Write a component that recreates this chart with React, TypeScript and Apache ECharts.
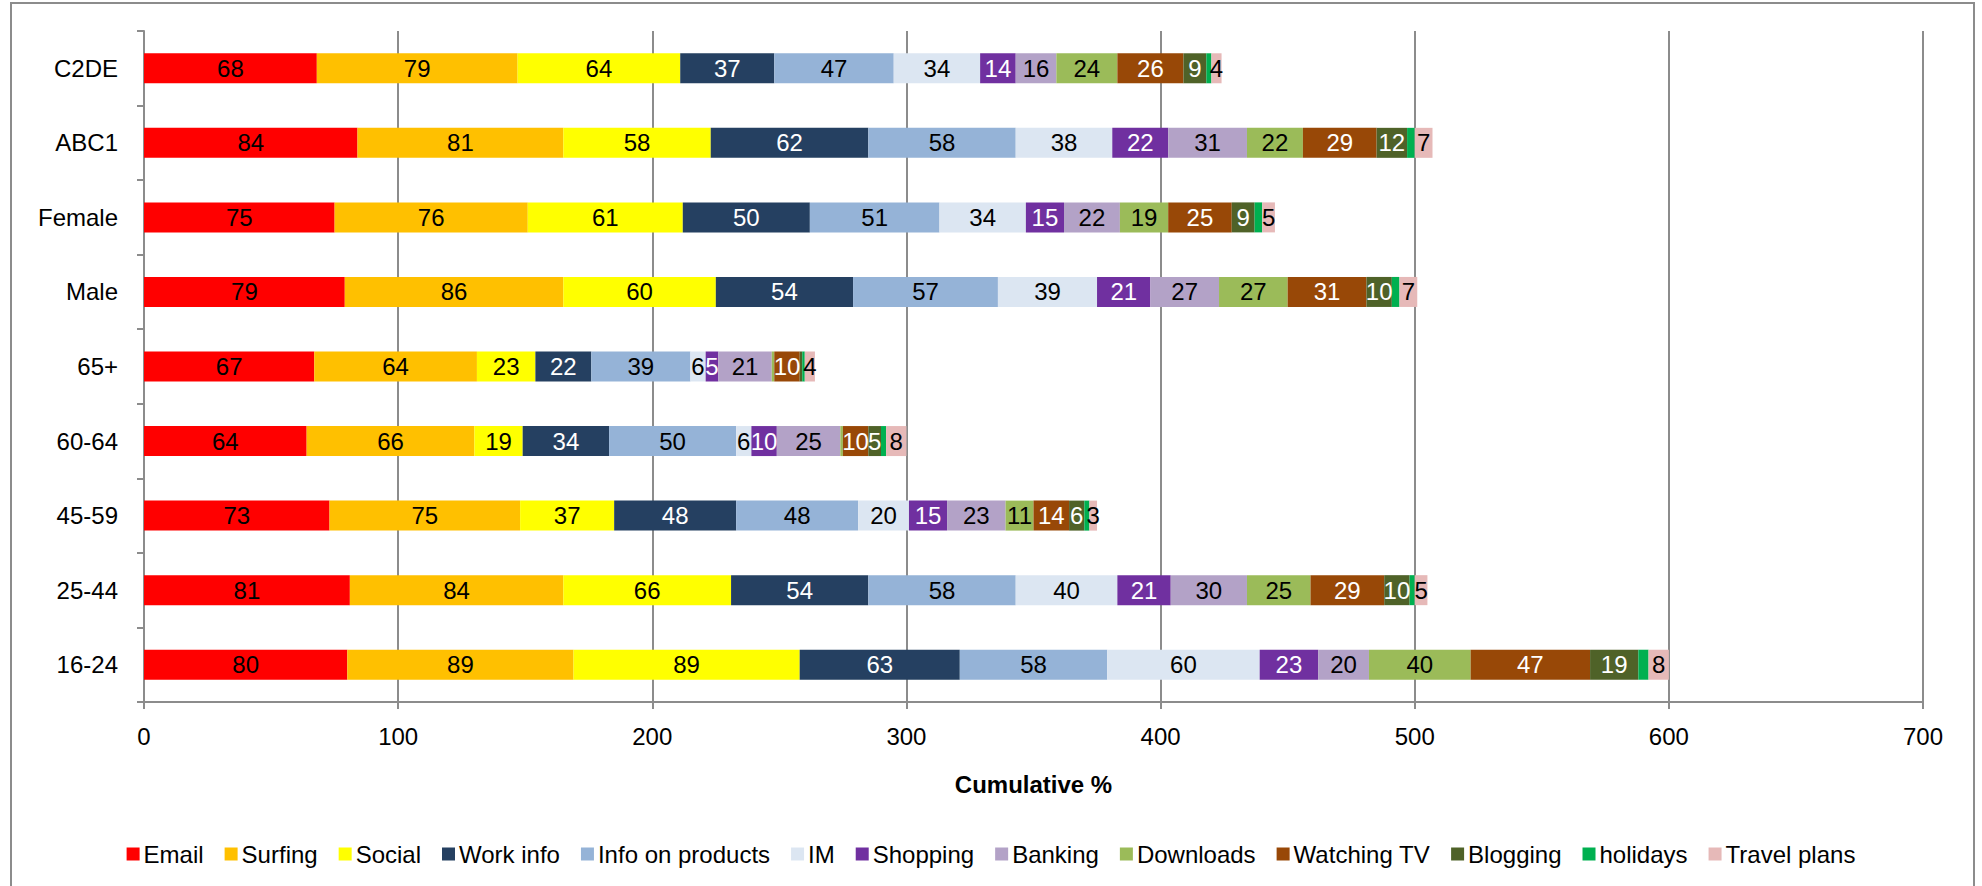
import React, { useEffect, useRef } from "react";
import * as echarts from "echarts";

// Audience groups, bottom to top on the category axis
const groups = ["16-24", "25-44", "45-59", "60-64", "65+", "Male", "Female", "ABC1", "C2DE"];

const activities = [
  "Email", "Surfing", "Social", "Work info", "Info on products", "IM", "Shopping",
  "Banking", "Downloads", "Watching TV", "Blogging", "holidays", "Travel plans",
];

const activityColors = [
  "#FF0000", "#FFC000", "#FFFF00", "#254061", "#95B3D7", "#DCE6F2", "#7030A0",
  "#B3A2C7", "#9BBB59", "#984807", "#4F6228", "#00B050", "#E6B9B8",
];

// Segments whose labels sit on a dark fill use white text
const whiteLabel = ["Work info", "Shopping", "Watching TV", "Blogging"];
const unlabelled = ["holidays"];

// Per-activity values, in the order of `groups`
const email = [80, 81, 73, 64, 67, 79, 75, 84, 68];
const surfing = [89, 84, 75, 66, 64, 86, 76, 81, 79];
const social = [89, 66, 37, 19, 23, 60, 61, 58, 64];
const workInfo = [63, 54, 48, 34, 22, 54, 50, 62, 37];
const infoOnProducts = [58, 58, 48, 50, 39, 57, 51, 58, 47];
const im = [60, 40, 20, 6, 6, 39, 34, 38, 34];
const shopping = [23, 21, 15, 10, 5, 21, 15, 22, 14];
const banking = [20, 30, 23, 25, 21, 27, 22, 31, 16];
const downloads = [40, 25, 11, 1, 1, 27, 19, 22, 24];
const watchingTv = [47, 29, 14, 10, 10, 31, 25, 29, 26];
const blogging = [19, 10, 6, 5, 1, 10, 9, 12, 9];
const holidays = [4, 2, 2, 2, 1, 3, 3, 3, 2];
const travelPlans = [8, 5, 3, 8, 4, 7, 5, 7, 4];

const seriesValues = [
  email, surfing, social, workInfo, infoOnProducts, im, shopping,
  banking, downloads, watchingTv, blogging, holidays, travelPlans,
];

const xTicks = { min: 0, max: 700, interval: 100 };

const FONT = "'Liberation Sans', Arial, sans-serif";
const GRID_GRAY = "#8c8c8c";

export default function App() {
  const ref = useRef<HTMLDivElement>(null);

  useEffect(() => {
    if (!ref.current) return;
    const chart = echarts.init(ref.current, undefined, { renderer: "svg" });

    const series = activities.map((name, i) => ({
      name,
      type: "bar" as const,
      stack: "total",
      barWidth: 30,
      itemStyle: { color: activityColors[i] },
      label: {
        show: !unlabelled.includes(name),
        position: "inside" as const,
        fontFamily: FONT,
        fontSize: 24,
        color: whiteLabel.includes(name) ? "#ffffff" : "#000000",
        formatter: (p: any) => (p.value >= 2 ? String(p.value) : ""),
      },
      data: seriesValues[i],
    }));

    chart.setOption({
      animation: false,
      backgroundColor: "#ffffff",
      textStyle: { fontFamily: FONT },
      grid: { left: 144, right: 59, top: 31, bottom: 184, containLabel: false },
      xAxis: {
        type: "value",
        min: xTicks.min,
        max: xTicks.max,
        interval: xTicks.interval,
        name: "Cumulative %",
        nameLocation: "middle",
        nameGap: 70,
        nameTextStyle: { fontFamily: FONT, fontSize: 24, fontWeight: "bold", color: "#000" },
        axisLine: { show: true, lineStyle: { color: GRID_GRAY, width: 2 } },
        axisTick: { show: true, length: 7, lineStyle: { color: GRID_GRAY, width: 2 } },
        axisLabel: { fontFamily: FONT, fontSize: 24, color: "#000", margin: 22 },
        splitLine: { show: true, lineStyle: { color: GRID_GRAY, width: 2 } },
      },
      yAxis: {
        type: "category",
        data: groups,
        axisLine: { show: true, lineStyle: { color: GRID_GRAY, width: 2 } },
        axisTick: { show: true, length: 7, lineStyle: { color: GRID_GRAY, width: 2 } },
        axisLabel: { fontFamily: FONT, fontSize: 24, color: "#000", margin: 26 },
      },
      legend: {
        data: activities,
        bottom: 15,
        left: "center",
        icon: "rect",
        itemWidth: 13,
        itemHeight: 13,
        itemGap: 21,
        textStyle: { fontFamily: FONT, fontSize: 24, color: "#000", padding: [0, 0, 0, -1] },
      },
      graphic: [
        {
          type: "rect",
          shape: { x: 11, y: 3, width: 1963, height: 900 },
          style: { fill: "none", stroke: GRID_GRAY, lineWidth: 2 },
          silent: true,
          z: 100,
        },
      ],
      series,
    });

    return () => chart.dispose();
  }, []);

  return (
    <div
      ref={ref}
      style={{ position: "fixed", left: 0, top: 0, width: 1982, height: 886 }}
    />
  );
}
